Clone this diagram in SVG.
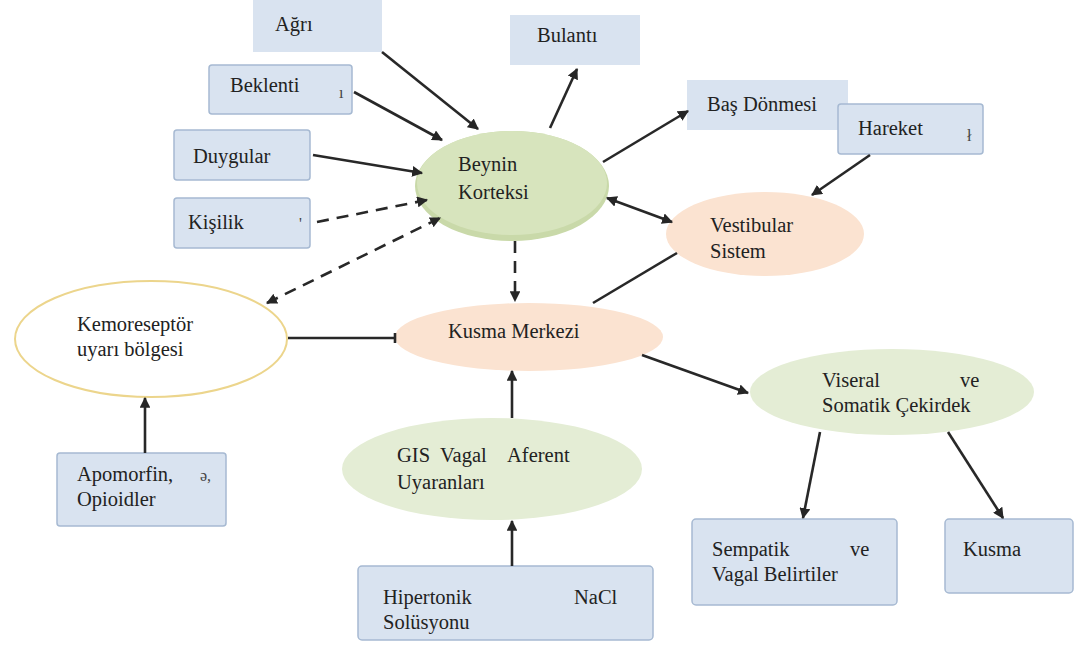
<svg xmlns="http://www.w3.org/2000/svg" width="1078" height="649" viewBox="0 0 1078 649">
<defs>
<marker id="ah" viewBox="0 0 10 10" refX="9" refY="5" markerWidth="4.2" markerHeight="4.2" orient="auto-start-reverse"><path d="M0,0 L10,5 L0,10 z" fill="#262626"/></marker>
<style>
.t text{font-family:"Liberation Serif","DejaVu Serif",serif;font-size:20.5px;fill:#222}
.box{fill:#d9e3f0}
.boxb{fill:#d9e3f0;stroke:#a6b9d2;stroke-width:1.5}
.t .mark{font-size:16px;fill:#444}
.ln{stroke:#282828;stroke-width:2.6;fill:none}
.ar{marker-end:url(#ah)}
.dash{stroke-dasharray:12 8}
</style>
</defs>
<rect width="1078" height="649" fill="#fff"/>
<g id="nodes" class="t" font-family="Liberation Serif, DejaVu Serif, serif">
<g id="agri"><rect class="box" x="253" y="0" width="129" height="52"/><text x="275" y="31">Ağrı</text></g>
<g id="bulanti"><rect class="box" x="510" y="15" width="130" height="50"/><text x="537" y="42">Bulantı</text></g>
<g id="beklenti"><rect class="boxb" x="209" y="65" width="143" height="49" rx="3"/><text x="230" y="92">Beklenti</text><text class="mark" x="339" y="98">ı</text></g>
<g id="duygular"><rect class="boxb" x="174" y="130" width="136" height="50" rx="3"/><text x="193" y="163">Duygular</text></g>
<g id="kisilik"><rect class="boxb" x="174" y="198" width="136" height="50" rx="3"/><text x="188" y="229">Kişilik</text><text class="mark" x="299" y="229">'</text></g>
<g id="basdonmesi"><rect class="box" x="687" y="80" width="161" height="50"/><text x="707" y="111">Baş Dönmesi</text></g>
<g id="hareket"><rect class="boxb" x="838" y="104" width="145" height="50" rx="3"/><text x="858" y="135">Hareket</text><text class="mark" x="967" y="141">ł</text></g>
<g id="beynin"><ellipse cx="512" cy="186" rx="97" ry="55" fill="#c9d9a9"/><ellipse cx="512" cy="183" rx="95" ry="52" fill="#d7e4bd"/><text x="458" y="171">Beynin</text><text x="458" y="199">Korteksi</text></g>
<g id="vestibular"><ellipse cx="765" cy="234" rx="99" ry="42" fill="#fbe3d1"/><text x="710" y="232">Vestibular</text><text x="710" y="258">Sistem</text></g>
<g id="kemo"><ellipse cx="151" cy="339" rx="136" ry="58" fill="#fff" stroke="#ecd58c" stroke-width="2"/><rect x="57" y="302" width="179" height="73" fill="#fff"/><text x="77" y="331">Kemoreseptör</text><text x="77" y="356">uyarı bölgesi</text></g>
<g id="kusmamerkezi"><ellipse cx="529" cy="337" rx="134" ry="34" fill="#fbe3d1"/><text x="448" y="338">Kusma Merkezi</text></g>
<g id="gis"><ellipse cx="492" cy="469" rx="150" ry="51" fill="#e4edd5"/><text x="397" y="462">GIS</text><text x="440" y="462">Vagal</text><text x="507" y="462">Aferent</text><text x="397" y="489">Uyaranları</text></g>
<g id="viseral"><ellipse cx="892" cy="392" rx="142" ry="43" fill="#e4edd5"/><text x="822" y="387">Viseral</text><text x="960" y="387">ve</text><text x="822" y="412">Somatik Çekirdek</text></g>
<g id="apomorfin"><rect class="boxb" x="57" y="453" width="169" height="73" rx="3"/><text x="77" y="481">Apomorfin,</text><text x="77" y="506">Opioidler</text><text class="mark" x="200" y="481">ə,</text></g>
<g id="hipertonik"><rect class="boxb" x="358" y="566" width="295" height="74" rx="4"/><text x="383" y="604">Hipertonik</text><text x="574" y="604">NaCl</text><text x="383" y="629">Solüsyonu</text></g>
<g id="sempatik"><rect class="boxb" x="692" y="519" width="205" height="86" rx="4"/><text x="712" y="556">Sempatik</text><text x="850" y="556">ve</text><text x="712" y="581">Vagal Belirtiler</text></g>
<g id="kusma"><rect class="boxb" x="945" y="519" width="128" height="74" rx="4"/><text x="963" y="556">Kusma</text></g>
</g>
<g id="connectors">
<line class="ln ar" x1="382" y1="52" x2="478" y2="129"/>
<line class="ln ar" x1="354" y1="92" x2="442" y2="140"/>
<line class="ln ar" x1="313" y1="155" x2="422" y2="173"/>
<line class="ln ar dash" x1="317" y1="222" x2="427" y2="200"/>
<line class="ln dash" x1="267" y1="303" x2="440" y2="218" marker-start="url(#ah)" marker-end="url(#ah)"/>
<line class="ln ar dash" x1="515" y1="241" x2="515" y2="301"/>
<line class="ln ar" x1="550" y1="128" x2="577" y2="69"/>
<line class="ln ar" x1="603" y1="162" x2="688" y2="111"/>
<line class="ln" x1="607" y1="198" x2="672" y2="222" marker-start="url(#ah)" marker-end="url(#ah)"/>
<line class="ln ar" x1="870" y1="155" x2="812" y2="195"/>
<line class="ln" x1="677" y1="253" x2="593" y2="303"/>
<line class="ln" x1="288" y1="338" x2="395" y2="338"/>
<line class="ln" x1="395" y1="333" x2="395" y2="343" stroke-width="2"/>
<line class="ln ar" x1="642" y1="355" x2="748" y2="393"/>
<line class="ln ar" x1="512" y1="418" x2="512" y2="371"/>
<line class="ln ar" x1="512" y1="566" x2="512" y2="521"/>
<line class="ln ar" x1="145" y1="453" x2="145" y2="398"/>
<line class="ln ar" x1="820" y1="432" x2="803" y2="518"/>
<line class="ln ar" x1="948" y1="432" x2="1003" y2="518"/>
</g>
</svg>
